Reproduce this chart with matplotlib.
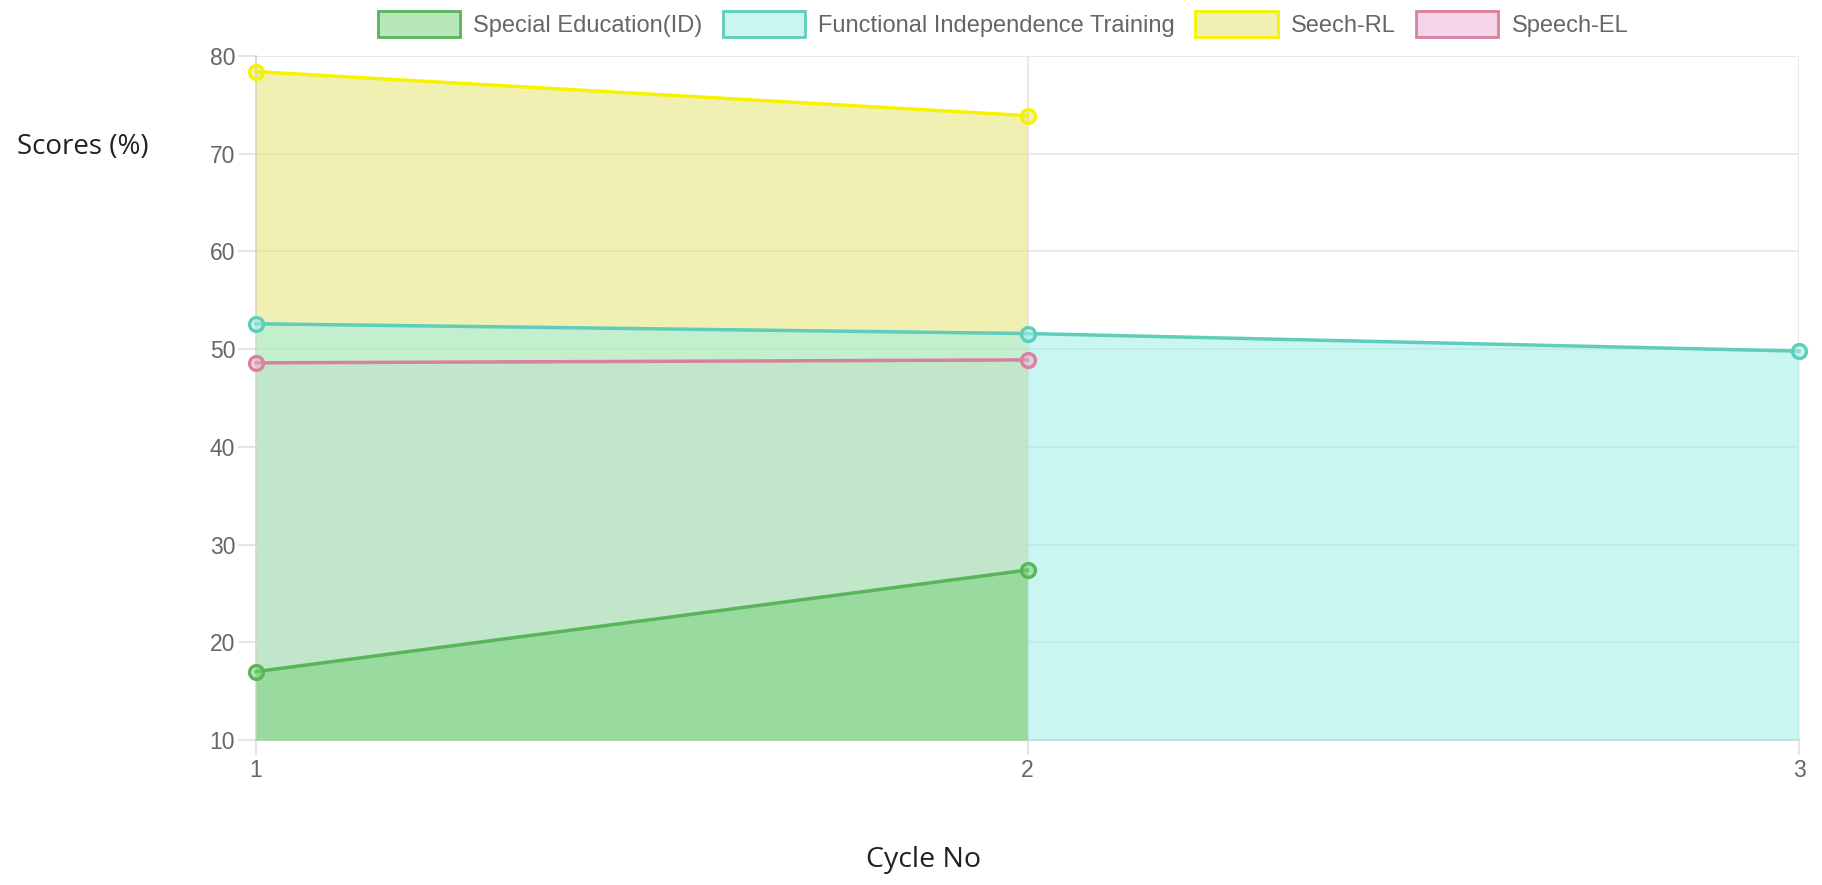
import matplotlib
matplotlib.use('Agg')
import matplotlib.pyplot as plt
from matplotlib.patches import Patch

# data
cycles = [1, 2, 3]
labels = ['Special Education(ID)', 'Functional Independence Training', 'Seech-RL', 'Speech-EL']
special_ed = [17.0, 27.4]
fit = [52.6, 51.6, 49.8]
seech_rl = [78.4, 73.9]
speech_el = [48.6, 48.9]
y_ticks = [10, 20, 30, 40, 50, 60, 70, 80]

series = [special_ed, fit, seech_rl, speech_el]
borders = ['#5ab55a', '#5fcdba', '#f7f200', '#d9809f']
fills = [(115/255, 209/255, 115/255, 0.5), (159/255, 239/255, 231/255, 0.55),
         (228/255, 228/255, 115/255, 0.55), (235/255, 171/255, 213/255, 0.5)]

fig = plt.figure(figsize=(18.22, 8.85), dpi=100)
ax = fig.add_axes([0.1405, 0.1638, 0.8469, 0.7729])

base = y_ticks[0]
n = len(series)
for i, (vals, bc, fc) in enumerate(zip(series, borders, fills)):
    xs = cycles[:len(vals)]
    z = 2 + (n - i)  # first dataset filled on top, like chart.js
    ax.fill_between(xs, vals, base, color=fc, linewidth=0, zorder=z)
    # lines sit above every fill
    ax.plot(xs, vals, color=bc, lw=2.5, marker='o', ms=10, mew=2.4,
            mfc=fc, mec=bc, zorder=z + 10, clip_on=False)

ax.set_xlim(cycles[0], cycles[-1])
ax.set_ylim(y_ticks[0], y_ticks[-1])
ax.set_xticks(cycles)
ax.set_yticks(y_ticks)
ax.set_axisbelow(True)
ax.grid(True, color='#e6e6e6', lw=1.2)

for s in ['top', 'right']:
    ax.spines[s].set_visible(False)
for s in ['left', 'bottom']:
    ax.spines[s].set_color('#d4d4d4')
    ax.spines[s].set_linewidth(1.2)

ax.tick_params(axis='y', length=13, width=1.2, color='#e0e0e0', pad=2,
               labelsize=16.5, labelcolor='#666666')
ax.tick_params(axis='x', length=11, width=1.2, color='#e0e0e0', pad=3,
               labelsize=16.5, labelcolor='#666666')
for lab in ax.get_xticklabels() + ax.get_yticklabels():
    lab.set_family('Liberation Sans')

fig.text(0.0093, 0.834, 'Scores (%)', fontsize=20, family='Open Sans',
         color='#222222', ha='left', va='center')
fig.text(0.507, 0.028, 'Cycle No', fontsize=20.5, family='Open Sans',
         color='#222222', ha='center', va='center')

handles = [Patch(facecolor=fc, edgecolor=bc, linewidth=2) for bc, fc in zip(borders, fills)]
fig.legend(handles, labels, loc='center', bbox_to_anchor=(0.5505, 0.973), ncol=4,
           frameon=False, prop={'family': 'Liberation Sans', 'size': 17},
           labelcolor='#666666', handlelength=3.5, handleheight=1.35,
           handletextpad=0.55, columnspacing=0.85)

fig.savefig('out.png', dpi=100)
